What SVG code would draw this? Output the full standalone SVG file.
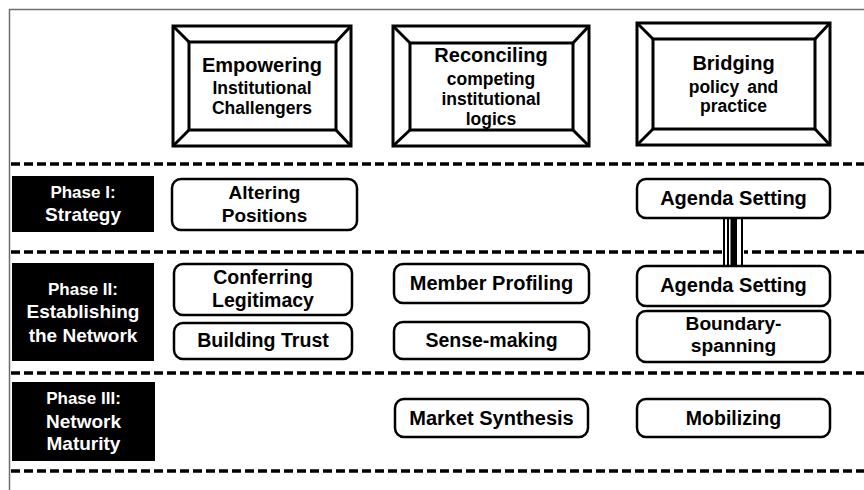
<svg xmlns="http://www.w3.org/2000/svg" width="864" height="490" viewBox="0 0 864 490">
  <style>
    .t { font-family: "Liberation Sans", Arial, sans-serif; font-weight: bold; text-anchor: middle; fill: #000; }
    .w { fill: #fff; }
    .frame { fill: #fff; stroke: #000; stroke-width: 3; }
    .bevel { fill: none; stroke: #000; stroke-width: 3; }
    .node { fill: #fff; stroke: #000; stroke-width: 2.5; }
    .phase { fill: #000; }
    .sep { stroke: #000; stroke-width: 3.5; stroke-dasharray: 9 4; fill: none; }
    .border { stroke: #6e6e6e; stroke-width: 1.5; fill: none; }
  </style>

  <rect x="0" y="0" width="864" height="490" fill="#fff"/>
  <path class="border" d="M9.5,490 V9.5 H864"/>

  <!-- phase separators -->
  <g id="separators">
    <line class="sep" x1="11" y1="164" x2="864" y2="164"/>
    <line class="sep" x1="11" y1="252" x2="864" y2="252"/>
    <line class="sep" x1="11" y1="373" x2="864" y2="373"/>
    <line class="sep" x1="11" y1="471" x2="864" y2="471"/>
  </g>

  <!-- column headers -->
  <g id="col-empowering">
    <rect class="frame" x="173" y="26" width="178" height="120"/>
    <rect class="bevel" x="189" y="42" width="147" height="88"/>
    <path class="bevel" d="M173,26 L189,42 M351,26 L336,42 M173,146 L189,130 M351,146 L336,130"/>
    <text class="t" x="262" y="72" font-size="20">Empowering</text>
    <text class="t" x="262" y="94" font-size="17.5">Institutional</text>
    <text class="t" x="262" y="114" font-size="17.5">Challengers</text>
  </g>
  <g id="col-reconciling">
    <rect class="frame" x="393" y="26" width="196" height="120"/>
    <rect class="bevel" x="410" y="43" width="163" height="87"/>
    <path class="bevel" d="M393,26 L410,43 M589,26 L573,43 M393,146 L410,130 M589,146 L573,130"/>
    <text class="t" x="491" y="62" font-size="20">Reconciling</text>
    <text class="t" x="491" y="85" font-size="17.5">competing</text>
    <text class="t" x="491" y="105" font-size="17.5">institutional</text>
    <text class="t" x="491" y="125" font-size="17.5">logics</text>
  </g>
  <g id="col-bridging">
    <rect class="frame" x="637" y="23" width="193" height="122"/>
    <rect class="bevel" x="653" y="39" width="162" height="90"/>
    <path class="bevel" d="M637,23 L653,39 M830,23 L815,39 M637,145 L653,129 M830,145 L815,129"/>
    <text class="t" x="733.5" y="70" font-size="20">Bridging</text>
    <text class="t" x="733.5" y="93" font-size="17.5" word-spacing="3">policy and</text>
    <text class="t" x="733.5" y="112" font-size="17.5">practice</text>
  </g>

  <!-- phase labels -->
  <g id="phase-1">
    <rect class="phase" x="12" y="176" width="142" height="56"/>
    <text class="t w" x="83" y="198" font-size="17">Phase I:</text>
    <text class="t w" x="83" y="221" font-size="19">Strategy</text>
  </g>
  <g id="phase-2">
    <rect class="phase" x="12" y="263" width="142" height="98"/>
    <text class="t w" x="83" y="295" font-size="17">Phase II:</text>
    <text class="t w" x="83" y="318" font-size="19">Establishing</text>
    <text class="t w" x="83" y="342" font-size="19">the Network</text>
  </g>
  <g id="phase-3">
    <rect class="phase" x="12" y="382" width="143" height="79"/>
    <text class="t w" x="83.5" y="404" font-size="17">Phase III:</text>
    <text class="t w" x="83.5" y="428" font-size="19">Network</text>
    <text class="t w" x="83.5" y="450" font-size="19">Maturity</text>
  </g>

  <!-- link between the two Agenda Setting boxes -->
  <g id="connectors">
    <rect x="722" y="218" width="22" height="48" fill="#fff"/>
    <line x1="724" y1="218" x2="724" y2="266" stroke="#000" stroke-width="2"/>
    <line x1="728" y1="218" x2="728" y2="266" stroke="#000" stroke-width="2"/>
    <rect x="730.5" y="218" width="6.5" height="48" fill="#000"/>
    <line x1="742" y1="218" x2="742" y2="266" stroke="#000" stroke-width="2"/>
  </g>

  <!-- phase I activities -->
  <g id="altering-positions">
    <rect class="node" x="172" y="179" width="185" height="51" rx="9"/>
    <text class="t" x="264.5" y="199" font-size="19">Altering</text>
    <text class="t" x="264.5" y="222" font-size="19">Positions</text>
  </g>
  <g id="agenda-setting-1">
    <rect class="node" x="637" y="179" width="193" height="39" rx="9"/>
    <text class="t" x="733.5" y="205" font-size="20">Agenda Setting</text>
  </g>

  <!-- phase II activities -->
  <g id="conferring-legitimacy">
    <rect class="node" x="174" y="264" width="178" height="51" rx="9"/>
    <text class="t" x="263" y="284" font-size="19.5">Conferring</text>
    <text class="t" x="263" y="307" font-size="19.5">Legitimacy</text>
  </g>
  <g id="building-trust">
    <rect class="node" x="174" y="323" width="178" height="36" rx="9"/>
    <text class="t" x="263" y="347" font-size="19.6">Building Trust</text>
  </g>
  <g id="member-profiling">
    <rect class="node" x="394" y="264" width="195" height="39" rx="9"/>
    <text class="t" x="491.5" y="290" font-size="20">Member Profiling</text>
  </g>
  <g id="sense-making">
    <rect class="node" x="394" y="322" width="195" height="37" rx="9"/>
    <text class="t" x="491.5" y="347" font-size="19.5">Sense-making</text>
  </g>
  <g id="agenda-setting-2">
    <rect class="node" x="637" y="266" width="193" height="40" rx="9"/>
    <text class="t" x="733.5" y="292" font-size="20">Agenda Setting</text>
  </g>
  <g id="boundary-spanning">
    <rect class="node" x="637" y="311" width="193" height="51" rx="9"/>
    <text class="t" x="733.5" y="330" font-size="19.2">Boundary-</text>
    <text class="t" x="733.5" y="352" font-size="19.2">spanning</text>
  </g>

  <!-- phase III activities -->
  <g id="market-synthesis">
    <rect class="node" x="395" y="399" width="193" height="38" rx="9"/>
    <text class="t" x="491.5" y="425" font-size="20">Market Synthesis</text>
  </g>
  <g id="mobilizing">
    <rect class="node" x="637" y="399" width="193" height="38" rx="9"/>
    <text class="t" x="733.5" y="425" font-size="19.5">Mobilizing</text>
  </g>
</svg>
